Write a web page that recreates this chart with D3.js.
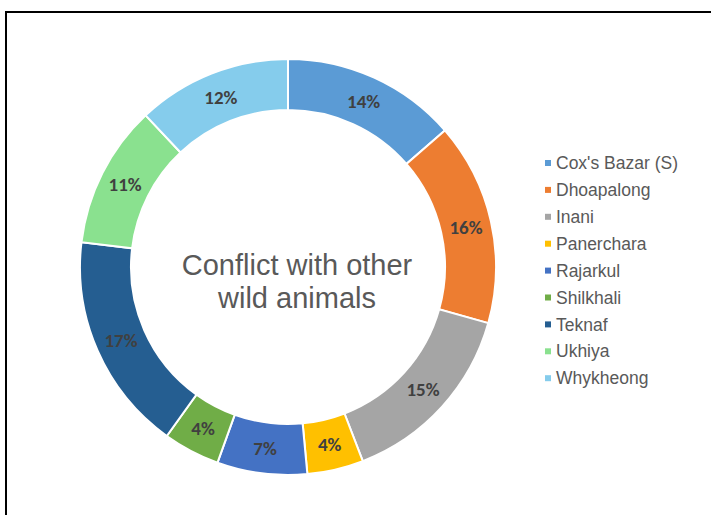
<!DOCTYPE html>
<html>
<head>
<meta charset="utf-8">
<script src="https://cdn.jsdelivr.net/npm/d3@7"></script>
<style>
body { margin: 0; background: #fff; }
</style>
</head>
<body>
<div id="chart"></div>
<script>
var categories = ["Cox's Bazar (S)", "Dhoapalong", "Inani", "Panerchara", "Rajarkul", "Shilkhali", "Teknaf", "Ukhiya", "Whykheong"];
// shares (labels are the rounded values)
var values = [13.6, 15.75, 14.8, 4.37, 6.99, 4.4, 17.0, 11.1, 12.0];
var labels = ["14%", "16%", "15%", "4%", "7%", "4%", "17%", "11%", "12%"];
var titleLines = ["Conflict with other", "wild animals"];

var colors = ["#5B9BD5", "#ED7D31", "#A5A5A5", "#FFC000", "#4472C4", "#70AD47", "#255E91", "#8AE18F", "#85CCEC"];

var width = 711,
height = 515,
cx = 288,
cy = 267,
outer = 208,
inner = 157;

var svg = d3.select("#chart").append("svg")
.attr("width", width)
.attr("height", height);

// frame
svg.append("rect")
.attr("x", 6)
.attr("y", 12)
.attr("width", 720)
.attr("height", 520)
.attr("fill", "none")
.attr("stroke", "#000")
.attr("stroke-width", 2);

var g = svg.append("g")
.attr("transform", "translate(" + cx + "," + cy + ")");

var pie = d3.pie().sort(null);

var arc = d3.arc()
.innerRadius(inner)
.outerRadius(outer);

var labelArc = d3.arc()
.innerRadius((inner + outer) / 2)
.outerRadius((inner + outer) / 2);

var arcs = pie(values);

g.selectAll("path")
.data(arcs)
.enter().append("path")
.attr("fill", function(d, i) { return colors[i]; })
.attr("stroke", "#fff")
.attr("stroke-width", 2)
.attr("d", arc);

g.selectAll("text.lbl")
.data(arcs)
.enter().append("text")
.attr("class", "lbl")
.attr("transform", function(d) { return "translate(" + labelArc.centroid(d) + ")"; })
.attr("text-anchor", "middle")
.attr("dy", "0.35em")
.attr("font-family", "Carlito, 'Liberation Sans', sans-serif")
.attr("font-weight", "bold")
.attr("font-size", 19)
.attr("fill", "#404040")
.text(function(d, i) { return labels[i]; });

// centre title
g.selectAll("text.title")
.data(titleLines)
.enter().append("text")
.attr("class", "title")
.attr("x", 9)
.attr("y", function(d, i) { return 8 + i * 33; })
.attr("text-anchor", "middle")
.attr("font-family", "'Liberation Sans', Arial, sans-serif")
.attr("font-size", 29)
.attr("fill", "#595959")
.text(function(d) { return d; });

// legend
var legend = svg.append("g")
.attr("transform", "translate(545,163)");

var item = legend.selectAll("g")
.data(categories)
.enter().append("g")
.attr("transform", function(d, i) { return "translate(0," + (i * 26.9) + ")"; });

item.append("rect")
.attr("x", 0)
.attr("y", -3)
.attr("width", 6)
.attr("height", 6)
.attr("fill", function(d, i) { return colors[i]; });

item.append("text")
.attr("x", 11)
.attr("dy", "0.35em")
.attr("font-family", "'Liberation Sans', Arial, sans-serif")
.attr("font-size", 17.5)
.attr("fill", "#595959")
.text(function(d) { return d; });
</script>
</body>
</html>
